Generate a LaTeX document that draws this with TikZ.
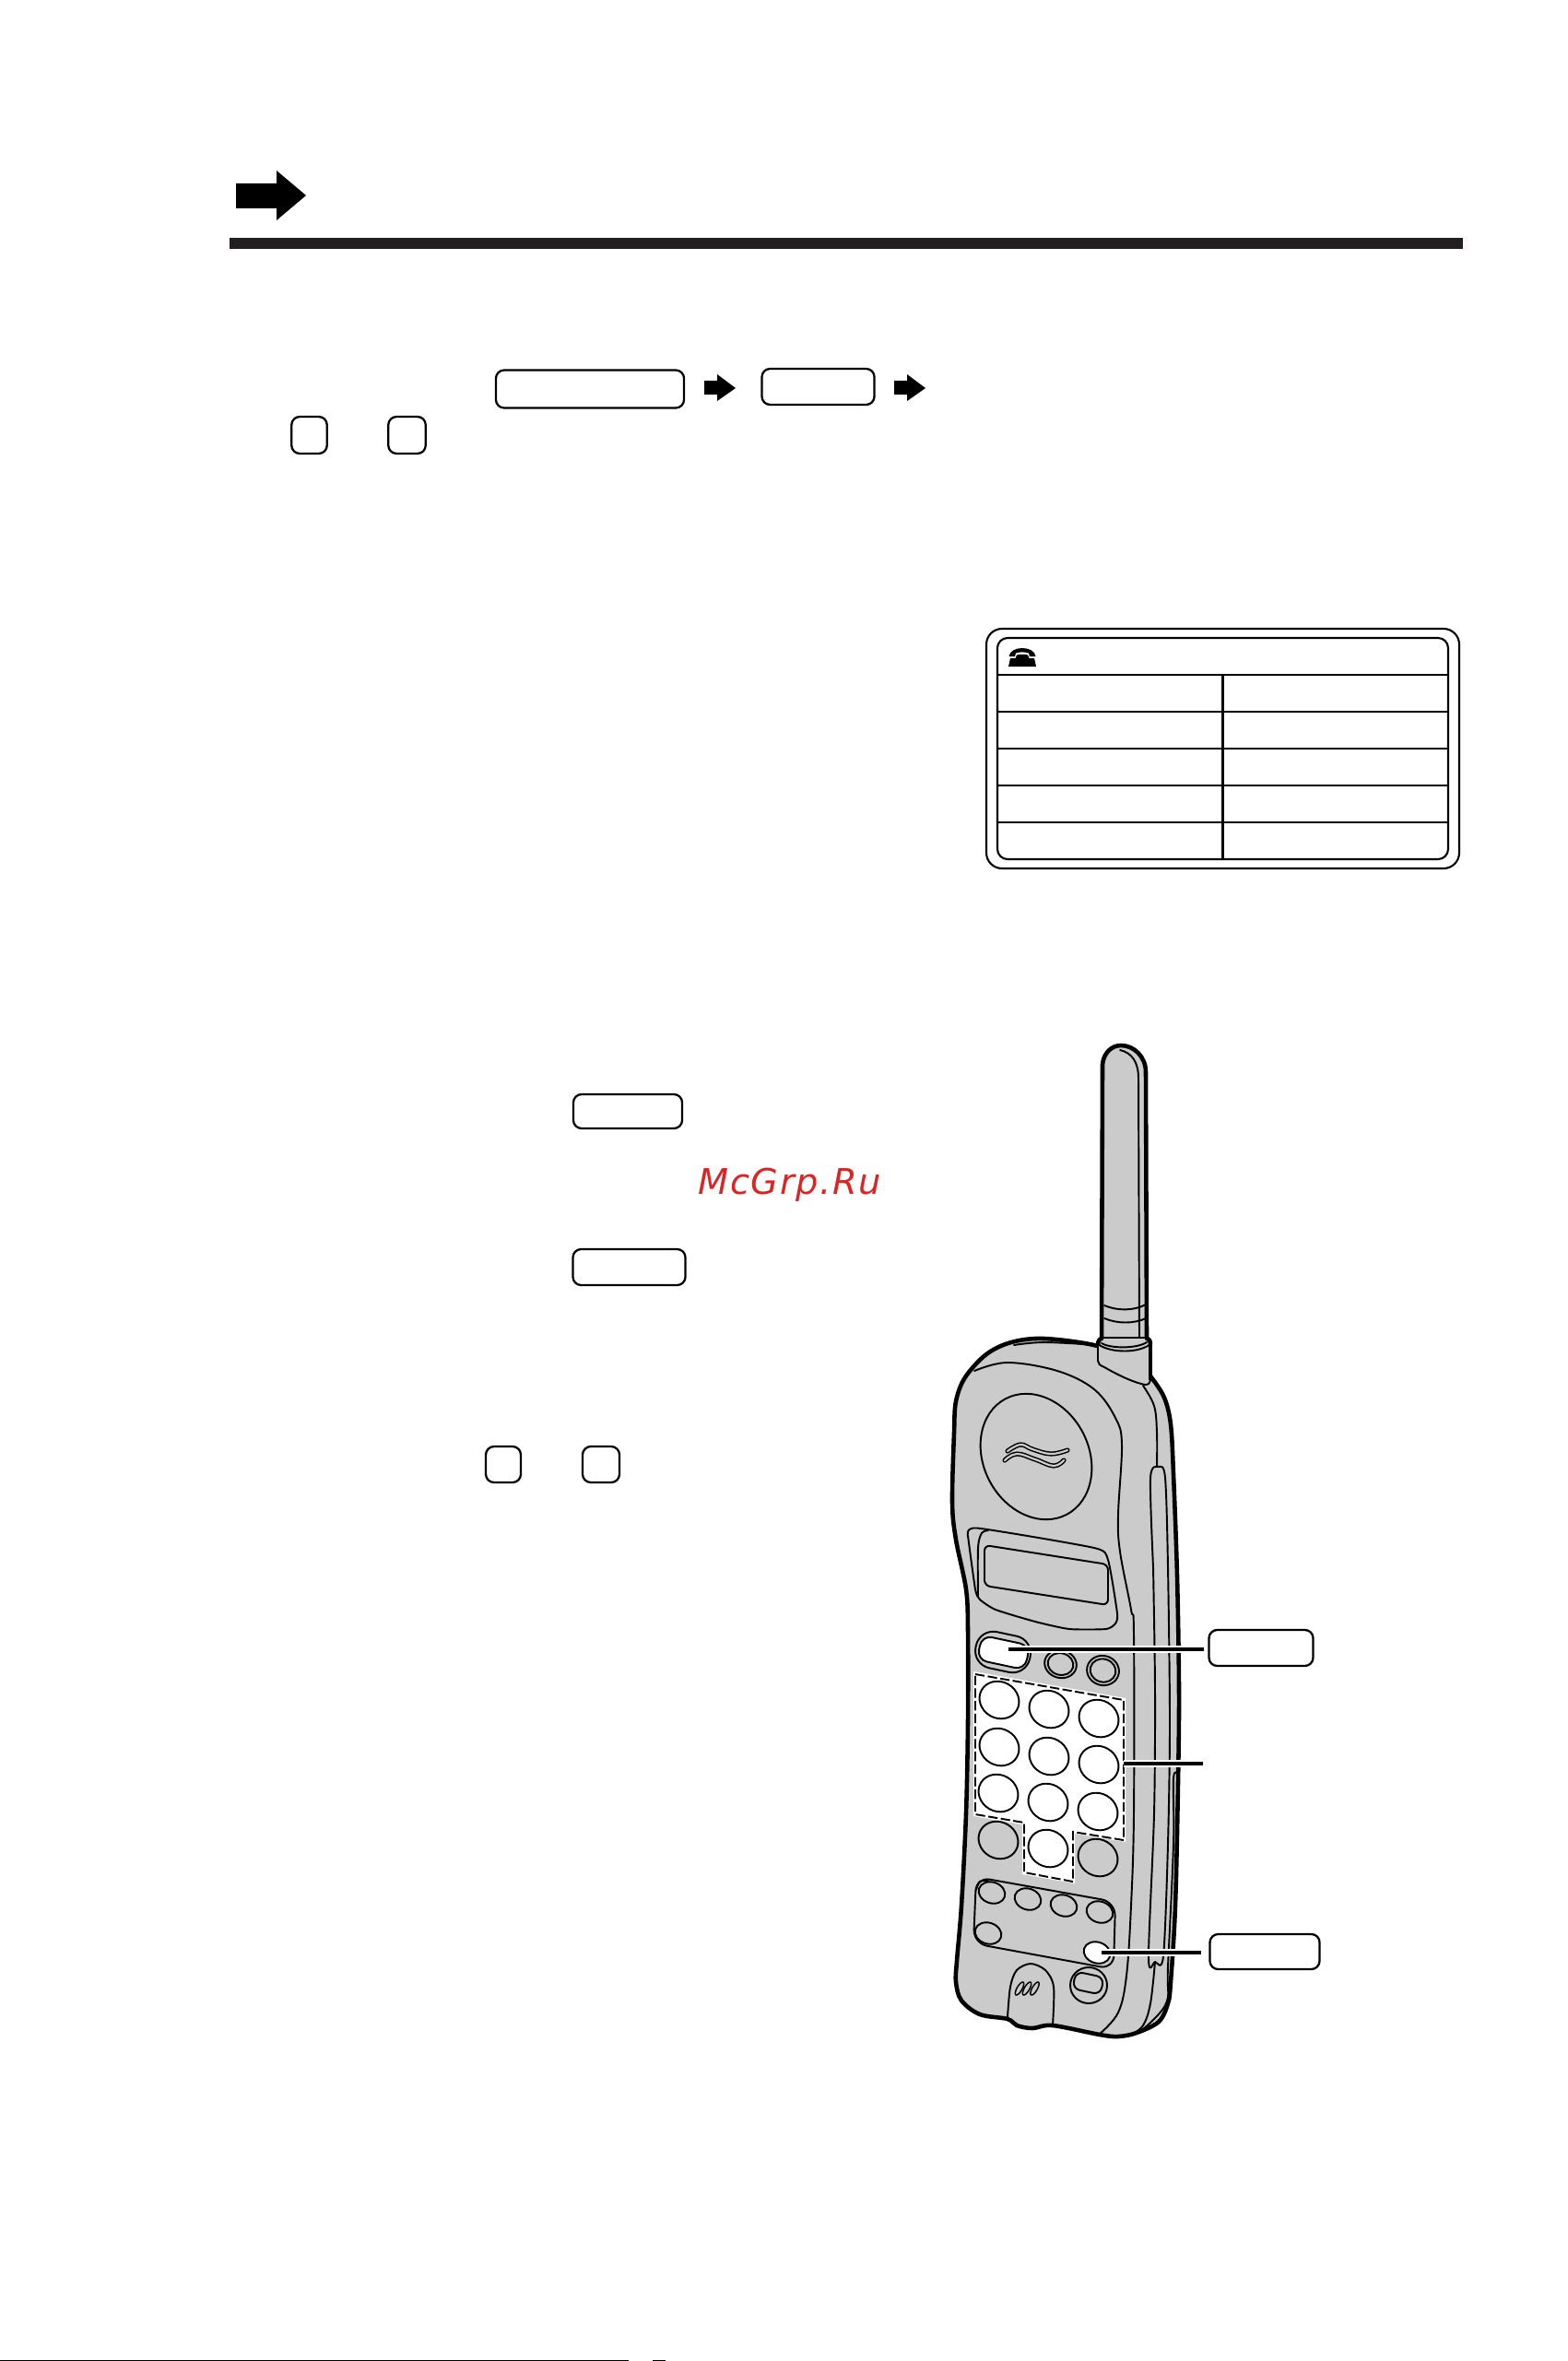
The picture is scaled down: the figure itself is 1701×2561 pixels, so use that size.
\documentclass[tikz,border=0pt]{standalone}
\usepackage{fontspec}
\newfontfamily\wmfont[LetterSpace=4]{DejaVu Sans}
\definecolor{bodygray}{RGB}{203,203,203}
\definecolor{barblack}{RGB}{35,31,32}
\definecolor{wmred}{RGB}{218,37,37}
\tikzset{
  keybox/.style={draw=black,fill=white,line width=0.65pt,rounded corners=0.09cm,inner sep=0pt,outer sep=0pt},
  thick outline/.style={draw=black,line width=1.3pt,line join=round},
  thin line/.style={draw=black,line width=0.55pt,line join=round,line cap=round},
  table line/.style={draw=black,line width=0.6pt},
  leader/.style={draw=black,line width=1pt},
  leader halo/.style={draw=white,line width=2.1pt},
  solid shape/.style={fill=black,draw=none},
}
\newcommand{\pkey}[3]{\draw[thin line,fill=#3] (#1,#2) ellipse [x radius=22,y radius=19.7,rotate=-30];}
\newcommand{\fkey}[3]{\draw[thin line,fill=#3] (#1,#2) ellipse [x radius=14.6,y radius=11.4,rotate=-18];}
\begin{document}
\begin{tikzpicture}[x=0.01cm,y=-0.01cm]
\useasboundingbox (0,0) rectangle (1701,2561);
\fill[white] (0,0) rectangle (1701,2561);

% header
\fill[solid shape] (256,199) -- (300,199) -- (300,185) -- (332,212) -- (300,239) -- (300,226) -- (256,226) -- cycle;
\fill[barblack] (249,258) rectangle (1587,270);

% top keys and arrows
\node[keybox,minimum width=2.04cm,minimum height=0.41cm] (ka) at (640,422) {};
\node[keybox,minimum width=1.22cm,minimum height=0.39cm] (kb) at (887.5,419.5) {};
\node[keybox,minimum width=0.385cm,minimum height=0.40cm] (kc) at (335.5,472) {};
\node[keybox,minimum width=0.405cm,minimum height=0.40cm] (kd) at (441.5,472) {};
\fill[solid shape] (764,413) -- (778,413) -- (778,406) -- (798,421) -- (778,435) -- (778,428) -- (764,428) -- cycle;
\fill[solid shape] (970,413) -- (984,413) -- (984,406) -- (1004,421) -- (984,435) -- (984,428) -- (970,428) -- cycle;

% table
\draw[table line,rounded corners=0.17cm] (1070,682) rectangle (1583,942);
\draw[table line,rounded corners=0.11cm] (1082,692) rectangle (1571,932);
\draw[table line] (1082,732) -- (1571,732) (1082,772) -- (1571,772) (1082,812) -- (1571,812) (1082,852) -- (1571,852) (1082,892) -- (1571,892);
\draw[table line] (1326.5,732) -- (1326.5,932);
\fill[solid shape] (1094.5,712) .. controls (1096,700) and (1122,700) .. (1123.5,712) -- (1117,712) -- (1116,708.5) .. controls (1112,707) and (1106,707) .. (1102,708.5) -- (1101,712) -- cycle;
\fill[solid shape] (1094,723) -- (1096,714) -- (1101.5,714) -- (1103,710.5) .. controls (1106,709.5) and (1112,709.5) .. (1115,710.5) -- (1116.5,714) -- (1122,714) -- (1124,723) -- cycle;

% instruction keys
\node[keybox,minimum width=1.18cm,minimum height=0.37cm] (ke) at (681,1205.5) {};
\node[keybox,minimum width=1.22cm,minimum height=0.39cm] (kf) at (682.5,1374.5) {};
\node[keybox,minimum width=0.38cm,minimum height=0.39cm] (kg) at (546,1588.5) {};
\node[keybox,minimum width=0.40cm,minimum height=0.39cm] (kh) at (652,1588.5) {};

% watermark
\node[anchor=base west,inner sep=0pt,text=wmred,font=\wmfont\itshape\fontsize{10.9pt}{13pt}\selectfont] (wm) at (757,1295) {McGrp.Ru};

% handset body
\draw[thick outline,fill=bodygray] plot[smooth cycle,tension=0.55] coordinates {
 (1191,1460) (1133,1452) (1097,1456) (1070,1469) (1047,1494) (1037,1520) (1035,1554) (1033,1630)
 (1037,1670) (1048,1724) (1050,1768) (1050,1867) (1048,1967) (1043,2067) (1038,2127) (1037,2150)
 (1043,2170) (1063,2185) (1093,2190) (1103,2197) (1120,2200) (1142,2197) (1193,2207) (1213,2209)
 (1233,2205) (1257,2193) (1267,2173) (1270,2150) (1275,2067) (1278,1933) (1279,1833) (1277,1710)
 (1273,1599) (1270,1545) (1263,1516) (1249,1494) (1235,1478)};

% top double line
\draw[thin line] plot[smooth,tension=0.6] coordinates {(1191,1459) (1133,1456) (1100,1459)};
% face contour
\draw[thin line] plot[smooth,tension=0.6] coordinates {(1057,1487) (1093,1478) (1147,1487) (1187,1507) (1210,1538) (1217,1567) (1213,1643) (1215,1683) (1227,1746) (1230,1773) (1230,1967) (1227,2067) (1222,2143) (1213,2183) (1193,2206)};
% side lines
\draw[thin line] plot[smooth,tension=0.6] coordinates {(1240,1503) (1252,1525) (1255,1554) (1255,1591)};
\draw[thin line] plot[smooth,tension=0.5] coordinates {(1251,1700) (1248,1603) (1257,1591) (1264,1603) (1267,1700) (1269,1867) (1267,2000) (1262,2122) (1253,2128) (1246,2123) (1252,1967) (1253,1833) (1251,1700)};
\draw[thin line] plot[smooth,tension=0.6] coordinates {(1253,2128) (1248,2173) (1240,2197) (1227,2207)};
\draw[thin line] plot[smooth,tension=0.6] coordinates {(1278,1925) (1273,1929) (1273,2000) (1267,2133) (1265,2173) (1240,2201)};

% speaker
\draw[thin line] (1124,1580) ellipse [x radius=71,y radius=57,rotate=-62];
\draw[draw=black,line width=0.42pt,double=bodygray,double distance=0.62pt,line cap=round] plot[smooth,tension=0.7] coordinates {(1093,1574) (1107,1567) (1120,1572) (1140,1577) (1158,1573)};
\draw[draw=black,line width=0.42pt,double=bodygray,double distance=0.62pt,line cap=round] plot[smooth,tension=0.7] coordinates {(1090,1584) (1103,1577) (1123,1583) (1143,1590) (1154,1584)};

% display
\draw[thin line] plot[smooth,tension=0.35] coordinates {(1050,1666) (1060,1657.5) (1187,1679) (1202,1692) (1212,1750) (1210,1761) (1200,1767) (1160,1767) (1123,1759) (1080,1746) (1063,1735) (1058,1724) (1050,1666)};
\draw[thin line] plot[smooth,tension=0.5] coordinates {(1061,1732) (1061,1679) (1065,1663) (1072,1660)};
\draw[thin line,rounded corners=0.06cm] (1068,1676) -- (1202,1697) -- (1202,1741) -- (1068,1720) -- cycle;

% talk button and small buttons
\draw[thin line,rotate around={-12:(1088,1792)},rounded corners=0.19cm] (1058,1772) rectangle (1118,1812);
\draw[thin line,fill=white,rotate around={-12:(1088.5,1792.5)},rounded corners=0.11cm] (1062,1779) rectangle (1115,1806);
\draw[thin line] (1150.5,1805) ellipse [x radius=17.5,y radius=15,rotate=-15];
\draw[thin line] (1150.5,1805) ellipse [x radius=14,y radius=11.8,rotate=-15];
\draw[thin line] (1196.5,1812) ellipse [x radius=17.5,y radius=16,rotate=-15];
\draw[thin line] (1196.5,1812) ellipse [x radius=14,y radius=12.5,rotate=-15];

% keypad
\fill[white] (1056,1813) -- (1221,1842) -- (1221,1998) -- (1166,1989) -- (1166,2043) -- (1109,2033) -- (1109,1979) -- (1056,1970) -- cycle;
\draw[draw=black,line width=0.55pt,dash pattern=on 2.9pt off 1pt] (1058,1816) -- (1219,1844) -- (1219,1996) -- (1164,1987) -- (1164,2041) -- (1111,2031) -- (1111,1977) -- (1058,1968) -- cycle;
\pkey{1084}{1844}{white}\pkey{1138}{1854}{white}\pkey{1192}{1864}{white}
\pkey{1084}{1895}{white}\pkey{1138}{1905}{white}\pkey{1192}{1914}{white}
\pkey{1083}{1945}{white}\pkey{1137}{1955}{white}\pkey{1191}{1965}{white}
\pkey{1083}{1996}{bodygray}\pkey{1137}{2005}{white}\pkey{1191}{2015}{bodygray}

% lower panel
\draw[thin line,rounded corners=0.15cm] (1059,2036) -- (1210,2063) -- (1208,2136) -- (1056,2108) -- cycle;
\draw[thin line] plot[smooth,tension=0.6] coordinates {(1059,2050) (1063,2041) (1072,2040)};
\draw[thin line] plot[smooth,tension=0.6] coordinates {(1058,2092) (1060,2100) (1066,2105)};
\fkey{1076}{2053}{bodygray}\fkey{1115}{2060}{bodygray}\fkey{1154}{2067}{bodygray}\fkey{1193}{2074}{bodygray}
\fkey{1072}{2097}{bodygray}\fkey{1190}{2118}{white}

% microphone dome
\draw[thin line] plot[smooth,tension=0.5] coordinates {(1093,2188) (1096,2155) (1103,2137) (1118,2130) (1134,2137) (1143,2155) (1142,2197)};
\draw[draw=black,line width=0.42pt,fill=bodygray] (1106,2157) ellipse [x radius=8,y radius=2.8,rotate=60];
\draw[draw=black,line width=0.42pt,fill=bodygray] (1114,2157) ellipse [x radius=8,y radius=2.8,rotate=60];
\draw[draw=black,line width=0.42pt,fill=bodygray] (1122.5,2157) ellipse [x radius=8,y radius=2.8,rotate=60];

% small lower button
\draw[thin line] (1181,2153.5) ellipse [x radius=20,y radius=19.5];
\draw[thin line,rotate around={-12:(1180.5,2151)},rounded corners=0.08cm] (1165,2141.5) rectangle (1196,2160.5);

% antenna
\draw[thick outline,fill=bodygray] (1195,1455) -- (1196,1155) .. controls (1197,1142) and (1206,1134) .. (1216,1134) .. controls (1230,1134) and (1243,1146) .. (1243,1163) -- (1244,1455) -- cycle;
\draw[thin line] (1215,1139) .. controls (1228,1142) and (1235,1152) .. (1235,1170) -- (1236,1454);
\draw[thin line] (1198,1416) .. controls (1212,1422) and (1230,1422) .. (1243,1415);
\draw[thin line] (1198,1430) .. controls (1212,1436) and (1230,1436) .. (1243,1430);
% collar
\draw[thin line,fill=bodygray] (1191,1458) .. controls (1191,1454) and (1193,1452) .. (1196,1451) -- (1243,1451) .. controls (1246,1452) and (1248,1454) .. (1248,1458) -- (1248,1497) .. controls (1248,1500) and (1246,1502) .. (1242,1502) .. controls (1228,1499) and (1212,1491) .. (1198,1483) .. controls (1193,1481) and (1191,1479) .. (1191,1476) -- cycle;
\draw[thick outline] (1248,1458) -- (1248,1497);
\draw[thick outline] (1191,1459) .. controls (1191,1454) and (1193,1452) .. (1196,1451);
\draw[thick outline] (1243,1451) .. controls (1246,1452) and (1248,1454) .. (1248,1458);
\draw[thin line] (1191,1458) .. controls (1205,1468) and (1235,1468) .. (1248,1458);
\draw[thin line] (1195,1457) .. controls (1205,1463) and (1233,1463) .. (1244,1456);

% callout keys and leaders
\node[keybox,minimum width=1.13cm,minimum height=0.39cm] (ktalk) at (1368,1787.5) {};
\node[keybox,minimum width=1.19cm,minimum height=0.38cm] (kflash) at (1372,2117) {};
\coordinate (pa) at (1094,1789);
\coordinate (pb) at (1306,1789);
\coordinate (pc) at (1219,1913);
\coordinate (pd) at (1305,1913);
\coordinate (pe) at (1195,2118);
\coordinate (pf) at (1303,2118);
\draw[leader halo] (pa) -- (1285,1789);
\draw[leader halo] (pc) -- (1285,1913);
\draw[leader halo] (pe) -- (1285,2118);
\draw[leader] (pa) -- (pb);
\draw[leader] (pc) -- (pd);
\draw[leader] (pe) -- (pf);

% bottom edge
\fill[black] (0,2560) rectangle (682,2561);
\fill[black] (708,2560) rectangle (722,2561);
\end{tikzpicture}
\end{document}
